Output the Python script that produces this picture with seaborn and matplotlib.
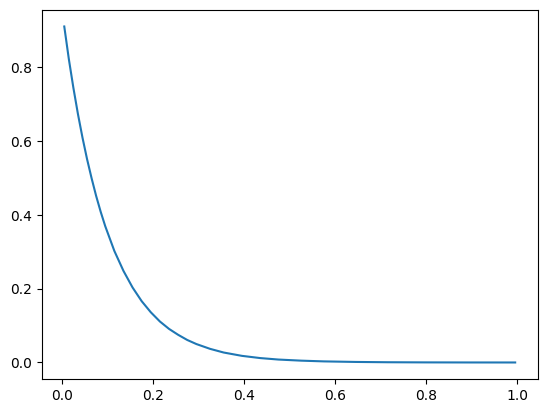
import matplotlib
matplotlib.use("Agg")
import matplotlib.pyplot as plt
import seaborn as sns
import pandas as pd

x_values = [0.005, 0.015, 0.025, 0.035, 0.045, 0.055, 0.065, 0.075, 0.085, 0.095,
            0.115, 0.135, 0.155, 0.175, 0.195, 0.215, 0.235, 0.255, 0.275, 0.295,
            0.325, 0.355, 0.395, 0.435, 0.475, 0.525, 0.575, 0.645, 0.715, 0.795,
            0.895, 0.995]
y_values = [0.910, 0.822, 0.744, 0.673, 0.609, 0.551, 0.499, 0.451, 0.408, 0.369,
            0.302, 0.248, 0.203, 0.166, 0.136, 0.111, 0.091, 0.075, 0.061, 0.050,
            0.037, 0.027, 0.018, 0.012, 0.008, 0.005, 0.003, 0.0015, 0.0007, 0.0003,
            0.0001, 0.00005]

df = pd.DataFrame({"x": x_values, "y": y_values})

fig, ax = plt.subplots(figsize=(6.4, 4.8), dpi=100)
sns.lineplot(data=df, x="x", y="y", ax=ax, color="#1f77b4", linewidth=1.5)
ax.set_xlabel("")
ax.set_ylabel("")
fig.savefig("out.png", dpi=100, bbox_inches="tight")
